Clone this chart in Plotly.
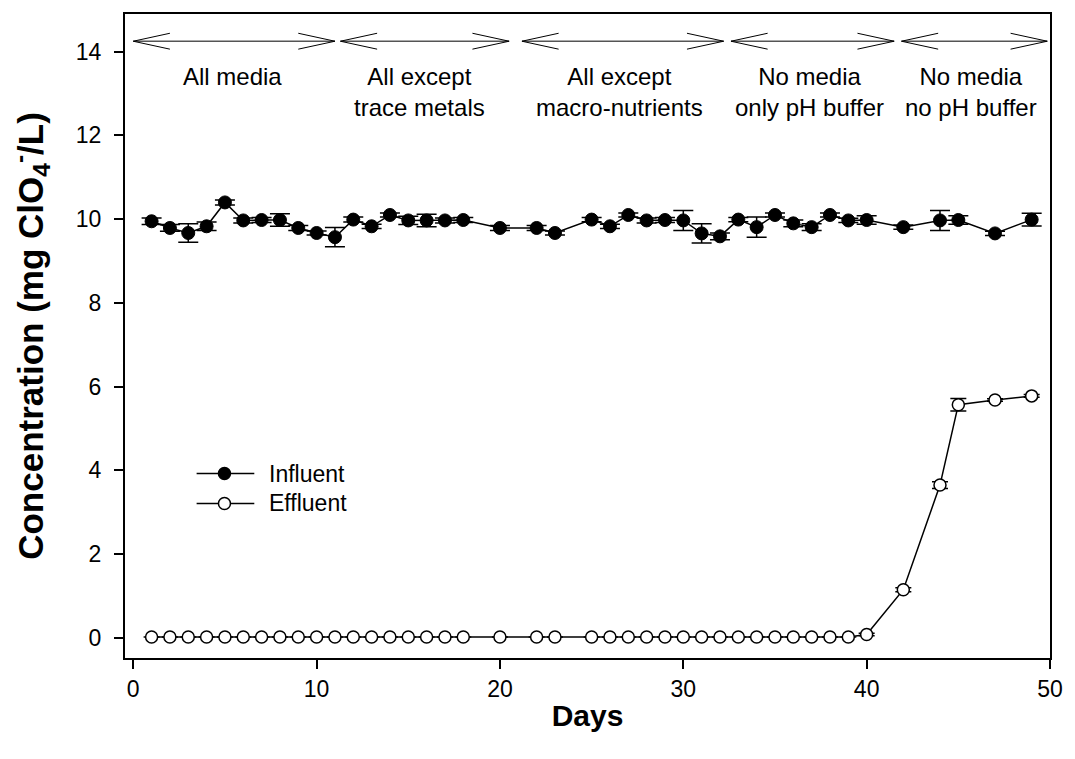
import plotly.graph_objects as go

# ---------------- data ----------------
days = [1, 2, 3, 4, 5, 6, 7, 8, 9, 10, 11, 12, 13, 14, 15, 16, 17, 18,
        20, 22, 23, 25, 26, 27, 28, 29, 30, 31, 32, 33, 34, 35, 36, 37, 38,
        39, 40, 42, 44, 45, 47, 49]

influent = [9.95, 9.79, 9.67, 9.83, 10.4, 9.97, 9.98, 9.98, 9.79, 9.67, 9.57,
            9.99, 9.83, 10.1, 9.97, 9.97, 9.97, 9.98,
            9.79, 9.79, 9.67, 9.99, 9.83, 10.1, 9.97, 9.98, 9.97, 9.66, 9.59,
            9.99, 9.81, 10.1, 9.9, 9.81, 10.1, 9.97, 9.98, 9.81, 9.97, 9.98,
            9.66, 9.99]
influent_err = [0.08, 0.08, 0.22, 0.10, 0.06, 0.06, 0.06, 0.15, 0.06, 0.05,
                0.23, 0.06, 0.05, 0.05, 0.10, 0.15, 0.06, 0.06,
                0.06, 0.06, 0.05, 0.05, 0.05, 0.05, 0.06, 0.06, 0.24, 0.23,
                0.08, 0.05, 0.24, 0.05, 0.08, 0.08, 0.05, 0.05, 0.10, 0.05,
                0.24, 0.10, 0.05, 0.15]

effluent = [0.02] * 36 + [0.08, 1.15, 3.65, 5.57, 5.68, 5.78]
effluent_err = [0.0] * 36 + [0.03, 0.05, 0.08, 0.15, 0.03, 0.03]

series_names = ["Influent", "Effluent"]
series_fill = ["black", "white"]

# phase segments (arrow start / end in days) and labels
phase_start = [0.0, 11.3, 21.2, 32.6, 41.9]
phase_end = [11.0, 20.5, 32.2, 41.5, 49.85]
phase_label_x = [5.4, 15.6, 26.5, 36.9, 45.7]
phase_labels = ["All media", "All except<br>trace metals",
                "All except<br>macro-nutrients", "No media<br>only pH buffer",
                "No media<br>no pH buffer"]
arrow_y = 14.25
label_y = 13.78

FONT = "Arial, Liberation Sans, sans-serif"

fig = go.Figure()

fig.add_trace(go.Scatter(
    x=days, y=influent, name=series_names[0], mode="lines+markers",
    line=dict(color="black", width=1.5),
    marker=dict(symbol="circle", size=13, color=series_fill[0],
                line=dict(color="black", width=1)),
    error_y=dict(type="data", array=influent_err, visible=True,
                 color="black", thickness=1.5, width=10),
    showlegend=False,
))
fig.add_trace(go.Scatter(
    x=days, y=effluent, name=series_names[1], mode="lines+markers",
    line=dict(color="black", width=1.5),
    marker=dict(symbol="circle", size=12, color=series_fill[1],
                line=dict(color="black", width=1.5)),
    error_y=dict(type="data", array=effluent_err, visible=True,
                 color="black", thickness=1.5, width=8),
    showlegend=False,
))

# double-headed open arrows along the top
shapes = []
head_dx = 2.0
head_dy = 0.19
for s, e in zip(phase_start, phase_end):
    shapes.append(dict(type="line", xref="x", yref="y", x0=s, x1=e,
                       y0=arrow_y, y1=arrow_y,
                       line=dict(color="#555555", width=1.5)))
    for tip, d in ((s, 1), (e, -1)):
        for sgn in (1, -1):
            shapes.append(dict(type="line", xref="x", yref="y",
                               x0=tip, y0=arrow_y,
                               x1=tip + d * head_dx, y1=arrow_y + sgn * head_dy,
                               line=dict(color="black", width=1)))

annotations = []
for lx, lab in zip(phase_label_x, phase_labels):
    annotations.append(dict(x=lx, y=label_y, xref="x", yref="y", text=lab,
                            showarrow=False, yanchor="top", align="center",
                            font=dict(family=FONT, size=24, color="black")))

# legend drawn as a key: line + marker + text (paper coordinates)
plot_l, plot_w, plot_b, plot_h = 125, 930, 101, 646
leg_x0_px, leg_x1_px, leg_mk_px, leg_txt_px = 197, 255, 225, 268
leg_rows_px = [473, 503]  # from top of page
for name, fill, row in zip(series_names, series_fill, leg_rows_px):
    yp = (759 - row - plot_b) / plot_h
    shapes.append(dict(type="line", xref="paper", yref="paper",
                       x0=(leg_x0_px - plot_l) / plot_w,
                       x1=(leg_x1_px - plot_l) / plot_w, y0=yp, y1=yp,
                       line=dict(color="black", width=1.5)))
    xm = (leg_mk_px - plot_l) / plot_w
    shapes.append(dict(type="circle", xref="paper", yref="paper",
                       xsizemode="pixel", ysizemode="pixel",
                       xanchor=xm, yanchor=yp, x0=-6, x1=6, y0=-6, y1=6,
                       fillcolor=fill, line=dict(color="black", width=1.5)))
    annotations.append(dict(x=(leg_txt_px - plot_l) / plot_w, y=yp,
                            xref="paper", yref="paper", text=name,
                            showarrow=False, xanchor="left", yanchor="middle",
                            font=dict(family=FONT, size=23, color="black")))

fig.update_layout(
    width=1075, height=759,
    margin=dict(l=125, r=20, t=12, b=101),
    paper_bgcolor="white", plot_bgcolor="white",
    font=dict(family=FONT, size=23, color="black"),
    shapes=shapes, annotations=annotations,
    showlegend=False,
    xaxis=dict(range=[-0.45, 50.0], tickvals=[0, 10, 20, 30, 40, 50],
               showgrid=False, zeroline=False,
               showline=True, linecolor="black", linewidth=2, mirror=True,
               ticks="outside", ticklen=9, tickwidth=1.5, tickcolor="black",
               tickfont=dict(family=FONT, size=23),
               title=dict(text="<b>Days</b>", font=dict(family=FONT, size=30),
                          standoff=4)),
    yaxis=dict(range=[-0.48, 14.9], tickvals=[0, 2, 4, 6, 8, 10, 12, 14],
               showgrid=False, zeroline=False,
               showline=True, linecolor="black", linewidth=2, mirror=True,
               ticks="outside", ticklen=9, tickwidth=1.5, tickcolor="black",
               tickfont=dict(family=FONT, size=23), ticklabelstandoff=8,
               title=dict(text="<b>Concentration (mg ClO<sub>4</sub><sup>-</sup>/L)</b>",
                          font=dict(family=FONT, size=35), standoff=22)),
)

fig.write_html("out.html")
